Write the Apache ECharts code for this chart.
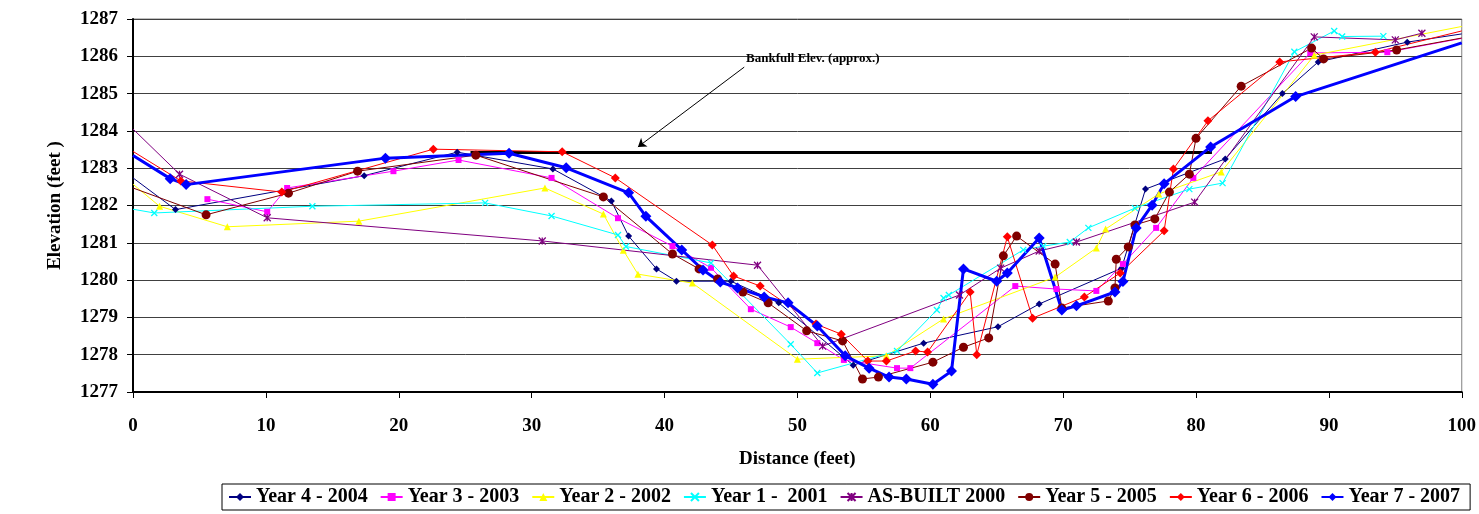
<!DOCTYPE html>
<html>
<head>
<meta charset="utf-8">
<script src="https://cdn.jsdelivr.net/npm/echarts@6.0.0/dist/echarts.min.js"></script>
<style>
  html, body { margin: 0; padding: 0; background: #fff; }
  #main { width: 1479px; height: 514px; }
</style>
</head>
<body>
<div id="main"></div>
<script>
// cross-section survey data, [distance (ft), elevation (ft)]
const year4 = [[0,1282.74],[3.2,1281.89],[17.4,1282.80],[24.4,1283.43],[31.6,1282.98],[36.0,1282.12],[37.3,1281.18],[39.4,1280.30],[40.9,1279.97],[45.0,1279.97],[48.6,1279.39],[54.2,1277.72],[59.5,1278.31],[65.1,1278.75],[68.2,1279.36],[74.4,1280.32],[76.2,1282.44],[82.2,1283.25],[86.5,1285.0],[89.2,1285.85],[95.9,1286.38],[100,1286.6]];
const year3 = [[5.6,1282.17],[10.1,1281.83],[11.6,1282.47],[19.6,1282.92],[24.5,1283.22],[31.5,1282.74],[36.5,1281.66],[40.6,1280.91],[43.5,1280.33],[46.5,1279.22],[49.5,1278.74],[51.5,1278.31],[53.5,1277.86],[57.5,1277.64],[58.5,1277.64],[66.4,1279.84],[69.5,1279.76],[72.5,1279.71],[74.5,1280.43],[77.0,1281.40],[79.8,1282.74],[88.6,1286.09],[94.4,1286.11],[100,1286.48]];
const year2 = [[0,1282.57],[2.0,1281.98],[7.1,1281.43],[17.0,1281.58],[31.0,1282.47],[35.4,1281.77],[36.9,1280.80],[38.0,1280.16],[42.1,1279.92],[50.0,1277.88],[56.7,1277.97],[61.0,1278.96],[69.4,1280.08],[72.5,1280.86],[73.2,1281.37],[77.2,1282.31],[81.9,1282.90],[88.9,1286.03],[100,1286.8]];
const year1 = [[0,1281.90],[1.6,1281.80],[13.5,1281.98],[26.5,1282.07],[31.5,1281.72],[36.5,1281.21],[37.1,1280.90],[43.5,1280.46],[49.5,1278.28],[51.5,1277.51],[57.5,1278.10],[60.5,1279.20],[61.0,1279.52],[61.4,1279.60],[67.0,1280.81],[68.5,1280.91],[70.5,1281.02],[71.9,1281.40],[75.4,1281.93],[79.5,1282.44],[82.0,1282.60],[87.4,1286.12],[90.4,1286.68],[91.0,1286.53],[94.1,1286.54]];
const asBuilt = [[0,1284.05],[3.5,1282.84],[10.1,1281.67],[30.8,1281.05],[47.0,1280.40],[51.9,1278.23],[62.2,1279.60],[65.3,1280.32],[68.2,1280.78],[71.0,1281.02],[79.9,1282.09],[88.9,1286.52],[95.0,1286.44],[97.0,1286.62]];
const year5 = [[0,1282.47],[5.5,1281.75],[11.7,1282.33],[16.9,1282.92],[25.8,1283.35],[35.4,1282.23],[40.6,1280.70],[42.6,1280.30],[44.0,1280.03],[45.9,1279.68],[47.8,1279.39],[50.7,1278.64],[53.4,1278.37],[54.9,1277.35],[56.1,1277.40],[60.2,1277.80],[62.5,1278.20],[64.4,1278.45],[65.5,1280.65],[66.5,1281.18],[69.4,1280.43],[69.9,1279.25],[73.4,1279.44],[73.9,1279.79],[74.0,1280.56],[74.9,1280.89],[75.4,1281.48],[76.9,1281.64],[78.0,1282.36],[79.5,1282.84],[80.0,1283.80],[83.4,1285.20],[88.7,1286.22],[89.6,1285.93],[95.1,1286.17],[100,1286.49]];
const year6 = [[0,1283.45],[3.6,1282.66],[11.2,1282.36],[22.6,1283.51],[32.3,1283.44],[36.3,1282.74],[43.6,1280.94],[45.2,1280.11],[47.2,1279.84],[51.4,1278.82],[53.3,1278.55],[55.3,1277.83],[56.7,1277.83],[58.9,1278.10],[59.8,1278.07],[63.0,1279.68],[63.5,1278.00],[65.8,1281.16],[67.7,1278.98],[71.6,1279.55],[74.3,1280.19],[77.6,1281.32],[78.3,1282.98],[80.9,1284.27],[86.3,1285.85],[93.5,1286.11],[100,1286.68]];
const year7 = [[0,1283.34],[2.8,1282.72],[4.0,1282.56],[19.0,1283.27],[28.3,1283.40],[32.6,1283.01],[37.3,1282.34],[38.6,1281.71],[41.3,1280.81],[42.9,1280.27],[44.2,1279.95],[45.5,1279.79],[47.5,1279.55],[49.3,1279.39],[51.5,1278.77],[53.6,1277.97],[55.4,1277.64],[56.9,1277.40],[58.2,1277.35],[60.2,1277.21],[61.6,1277.56],[62.5,1280.30],[65.0,1279.97],[65.8,1280.19],[68.2,1281.13],[69.9,1279.20],[71.0,1279.31],[73.9,1279.68],[74.5,1279.96],[75.5,1281.40],[76.7,1282.01],[77.6,1282.58],[81.1,1283.57],[87.5,1284.92],[100,1286.36]];

// bankfull line and its note
const bankfull = [[25.4,1283.42],[81.2,1283.42]];
const noteText = "Bankfull Elev. (approx.)";
const noteAt = [46.1,1285.95];
const arrowFrom = [46.0,1285.71];
const arrowTo = [38.0,1283.57];

const seriesNames = ["Year 4 - 2004","Year 3 - 2003","Year 2 - 2002","Year 1 -  2001","AS-BUILT 2000","Year 5 - 2005","Year 6 - 2006","Year 7 - 2007"];

const FONT = "Liberation Serif";
const crossMark = "path://M0 0L10 10M10 0L0 10";
const starMark = "path://M0 0L10 10M10 0L0 10M5 0L5 10";

function makeSeries(name, pts, color, symbol, size, lineWidth, strokeOnly) {
  return {
    name: name,
    type: "line",
    // no marker where the line is cut at the axis ends
    data: pts.map(p => (p[0] <= 0 || p[0] >= 100) ? { value: p, symbol: "none" } : p),
    symbol: symbol,
    symbolSize: size,
    showAllSymbol: true,
    clip: true,
    lineStyle: { color: color, width: lineWidth },
    itemStyle: strokeOnly
      ? { color: color, borderColor: color, borderWidth: 1.3 }
      : { color: color, borderWidth: 0 },
    emphasis: { disabled: true },
    z: 3
  };
}

const chart = echarts.init(document.getElementById("main"));

const option = {
  animation: false,
  backgroundColor: "#fff",
  textStyle: { fontFamily: FONT },
  grid: {
    left: 133, right: 17, top: 19, bottom: 122,
    show: true, borderColor: "#808080", borderWidth: 1
  },
  legend: {
    data: seriesNames,
    left: 222, top: 484,
    itemWidth: 22, itemHeight: 10, itemGap: 12,
    padding: [3, 10, 3, 6],
    borderColor: "#000", borderWidth: 1,
    textStyle: { fontFamily: FONT, fontWeight: "bold", fontSize: 20, color: "#000" }
  },
  xAxis: {
    type: "value", min: 0, max: 100, interval: 10,
    name: "Distance (feet)", nameLocation: "middle", nameGap: 58,
    nameTextStyle: { fontFamily: FONT, fontWeight: "bold", fontSize: 19, color: "#000" },
    axisLine: { show: true, lineStyle: { color: "#000", width: 2 } },
    axisTick: { show: true, length: 6, lineStyle: { color: "#000" } },
    axisLabel: { margin: 25, fontFamily: FONT, fontWeight: "bold", fontSize: 19, color: "#000" },
    splitLine: { show: false }
  },
  yAxis: {
    type: "value", min: 1277, max: 1287, interval: 1,
    name: "Elevation (feet )", nameLocation: "middle", nameGap: 68, nameRotate: 90,
    nameTextStyle: { fontFamily: FONT, fontWeight: "bold", fontSize: 19, color: "#000" },
    axisLine: { show: true, lineStyle: { color: "#000", width: 2 } },
    axisTick: { show: true, length: 6, lineStyle: { color: "#000" } },
    axisLabel: {
      margin: 15, fontFamily: FONT, fontWeight: "bold", fontSize: 19, color: "#000",
      formatter: v => String(v) // no thousands separator
    },
    splitLine: { show: true, lineStyle: { color: "#404040", width: 1 } }
  },
  series: [
    {
      name: "Bankfull",
      type: "line",
      data: bankfull,
      symbol: "none",
      lineStyle: { color: "#000", width: 3 },
      silent: true,
      z: 2,
      markLine: {
        silent: true,
        symbol: ["none", "arrow"],
        symbolSize: 8,
        lineStyle: { color: "#000", width: 1, type: "solid" },
        label: { show: false },
        data: [[{ coord: arrowFrom }, { coord: arrowTo }]]
      },
      markPoint: {
        silent: true,
        symbol: "circle",
        symbolSize: 1,
        itemStyle: { color: "rgba(0,0,0,0)" },
        label: {
          show: true, position: "right", distance: 0,
          formatter: noteText,
          fontFamily: FONT, fontWeight: "bold", fontSize: 13, color: "#000"
        },
        data: [{ coord: noteAt }]
      }
    },
    makeSeries(seriesNames[0], year4, "#000080", "diamond", 7, 1, false),
    makeSeries(seriesNames[1], year3, "#FF00FF", "rect", 6, 1, false),
    makeSeries(seriesNames[2], year2, "#FFFF00", "triangle", 7, 1, false),
    makeSeries(seriesNames[3], year1, "#00FFFF", crossMark, 6, 1, true),
    makeSeries(seriesNames[4], asBuilt, "#800080", starMark, 7, 1, true),
    makeSeries(seriesNames[5], year5, "#800000", "circle", 9, 1, false),
    makeSeries(seriesNames[6], year6, "#FF0000", "diamond", 9, 1, false),
    makeSeries(seriesNames[7], year7, "#0000FF", "diamond", 11, 3, false)
  ]
};

chart.setOption(option);
</script>
</body>
</html>
